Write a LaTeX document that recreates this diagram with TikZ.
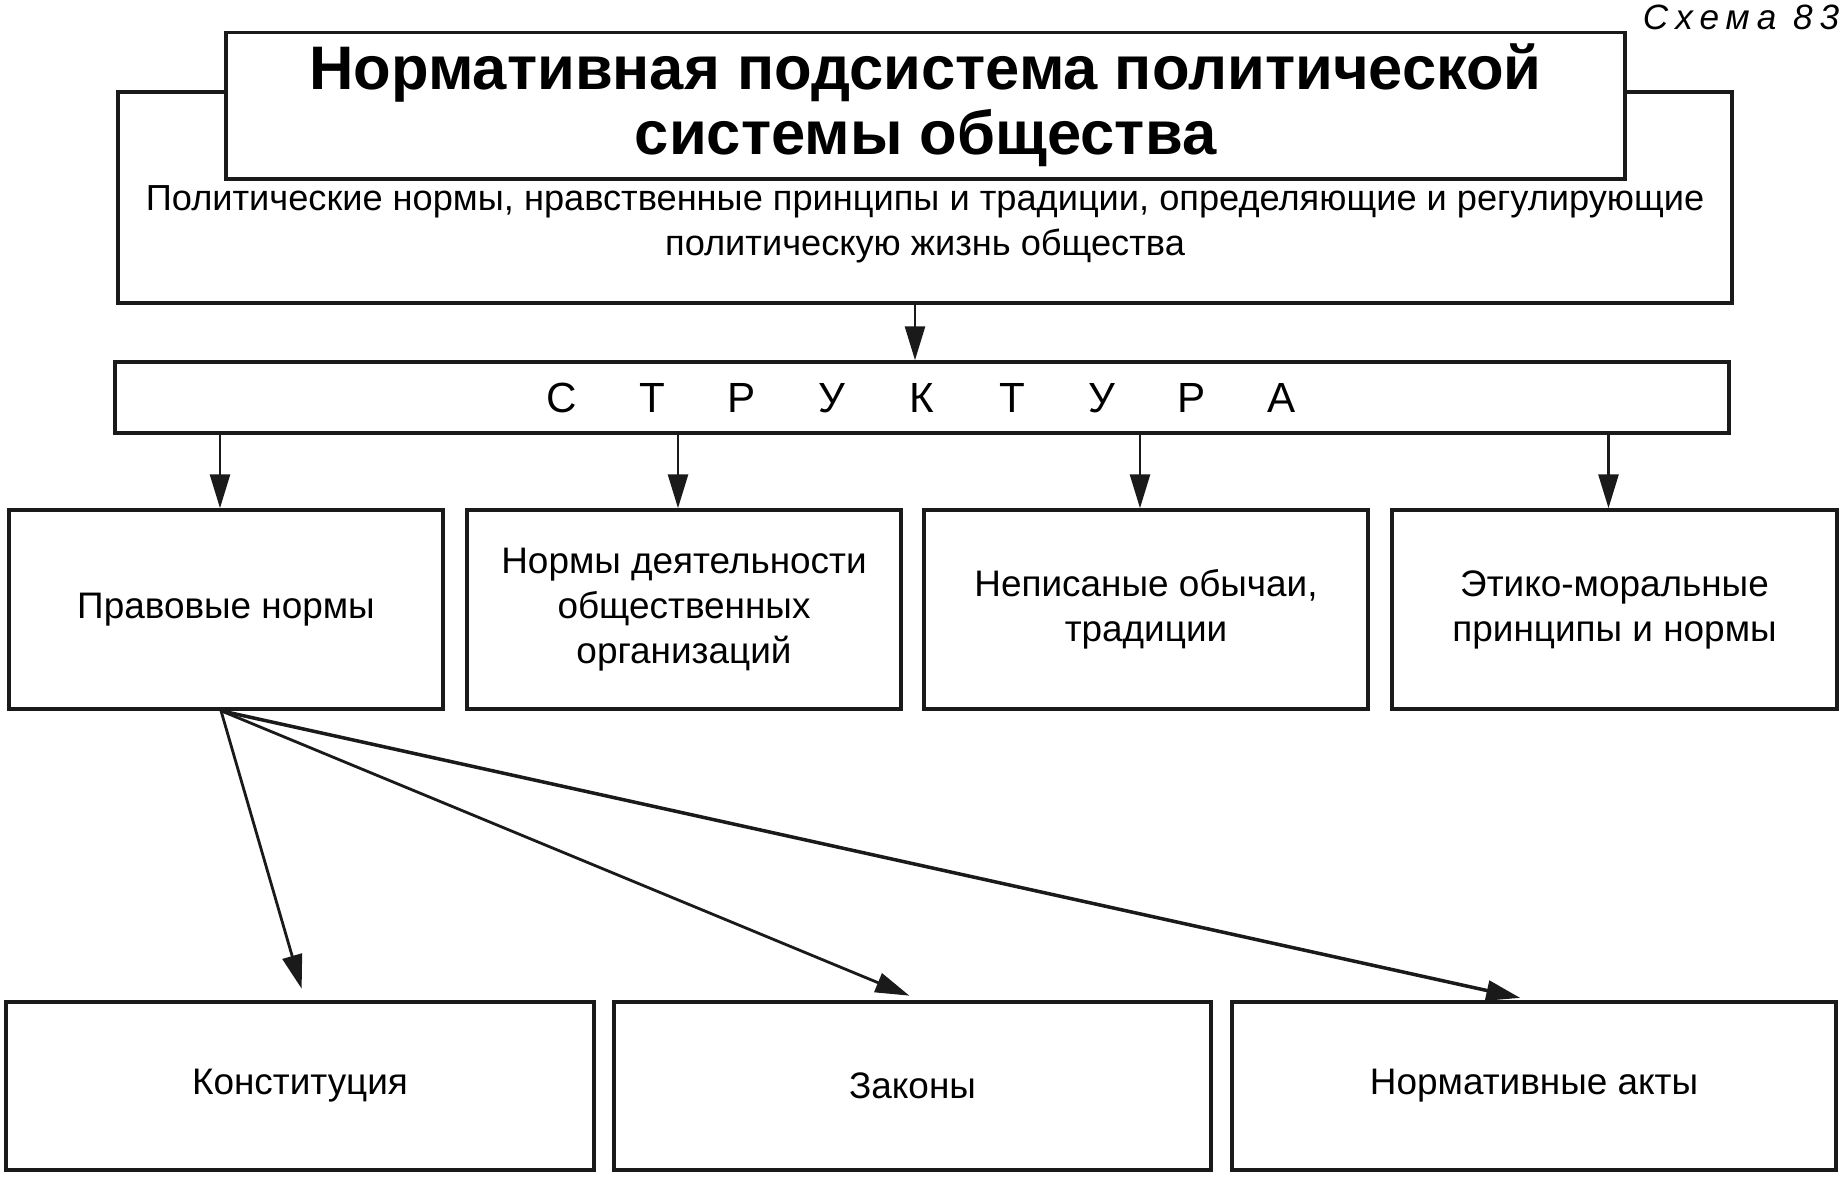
\documentclass[tikz,border=0pt]{standalone}
\usepackage{fontspec}
\setmainfont{Liberation Sans}
\newfontfamily\spacedfont[LetterSpace=20]{Liberation Sans}
\usetikzlibrary{arrows.meta}
\definecolor{box-border}{HTML}{1A1A1A}
\definecolor{box-fill}{HTML}{FFFFFF}
\definecolor{arrow}{HTML}{1A1A1A}
\tikzset{
  scheme-box/.style={
    draw=box-border, fill=box-fill, line width=1pt, align=center,
    font=\fontsize{10.5}{12.8}\selectfont
  },
  scheme-title/.style={
    scheme-box, font=\fontsize{17.5}{18.5}\selectfont\bfseries
  },
  scheme-text/.style={align=center, font=\fontsize{10.3}{12.8}\selectfont},
  scheme-edge/.style={-{Triangle[length=3.4mm, width=2mm]}, line width=0.8pt, draw=arrow}
}

\begin{document}
\begin{tikzpicture}
  \useasboundingbox (0,0) rectangle (18.44,-11.97);

  \node[anchor=north east, inner sep=0pt, font=\spacedfont\itshape\fontsize{10}{11}\selectfont] (label) at (18.40,-0.04) {Схема 83};

  \node[scheme-box, minimum width=16.14cm, minimum height=2.11cm] (outer) at (9.25,-1.975) {};
  \node[scheme-title, minimum width=13.99cm, minimum height=1.41cm] (title) at (9.255,-1.055)
    {Нормативная подсистема политической\\системы общества};
  \node[scheme-text] (desc) at (9.25,-2.24)
    {Политические нормы, нравственные принципы и традиции, определяющие и регулирующие\\политическую жизнь общества};

  \node[scheme-box, minimum width=16.14cm, minimum height=0.71cm, font=\fontsize{12}{14}\selectfont] (struct) at (9.22,-3.975)
    {\foreach \ch in {С,Т,Р,У,К,Т,У,Р,А}{\makebox[0.9cm]{\ch}}};

  % second row
  \node[scheme-box, minimum width=4.34cm, minimum height=1.99cm] (legal)   at (2.26,-6.095)  {Правовые нормы};
  \node[scheme-box, minimum width=4.34cm, minimum height=1.99cm] (public)  at (6.84,-6.095)  {Нормы деятельности\\общественных\\организаций};
  \node[scheme-box, minimum width=4.44cm, minimum height=1.99cm] (customs) at (11.46,-6.095) {Неписаные обычаи,\\традиции};
  \node[scheme-box, minimum width=4.45cm, minimum height=1.99cm] (ethics)  at (16.145,-6.095){Этико-моральные\\принципы и нормы};

  % bottom row
  \node[scheme-box, minimum width=5.88cm, minimum height=1.68cm] (const) at (3.0,-10.86)   {Конституция};
  \node[scheme-box, minimum width=5.97cm, minimum height=1.68cm] (laws)  at (9.125,-10.86) {Законы};
  \node[scheme-box, minimum width=6.04cm, minimum height=1.68cm] (acts)  at (15.34,-10.86) {Нормативные акты};

  \draw[scheme-edge] ([xshift=-1mm]outer.south) -- ([xshift=-1mm]outer.south |- struct.north);
  \foreach \n in {legal, public, customs, ethics}
    \draw[scheme-edge] ([xshift=-0.6mm]\n.north |- struct.south) -- ([xshift=-0.6mm]\n.north);

  \draw[scheme-edge, shorten >=1.2mm] ([xshift=-0.5mm]legal.south) -- ([xshift=0.5mm]const.north);
  \draw[scheme-edge, shorten >=1.2mm] ([xshift=-0.5mm]legal.south) -- ([xshift=0.8mm]laws.north);
  \draw[scheme-edge, shorten >=1.1mm, line width=1pt] ([xshift=-0.5mm]legal.south) -- ([xshift=-0.3mm]acts.north);
\end{tikzpicture}
\end{document}
